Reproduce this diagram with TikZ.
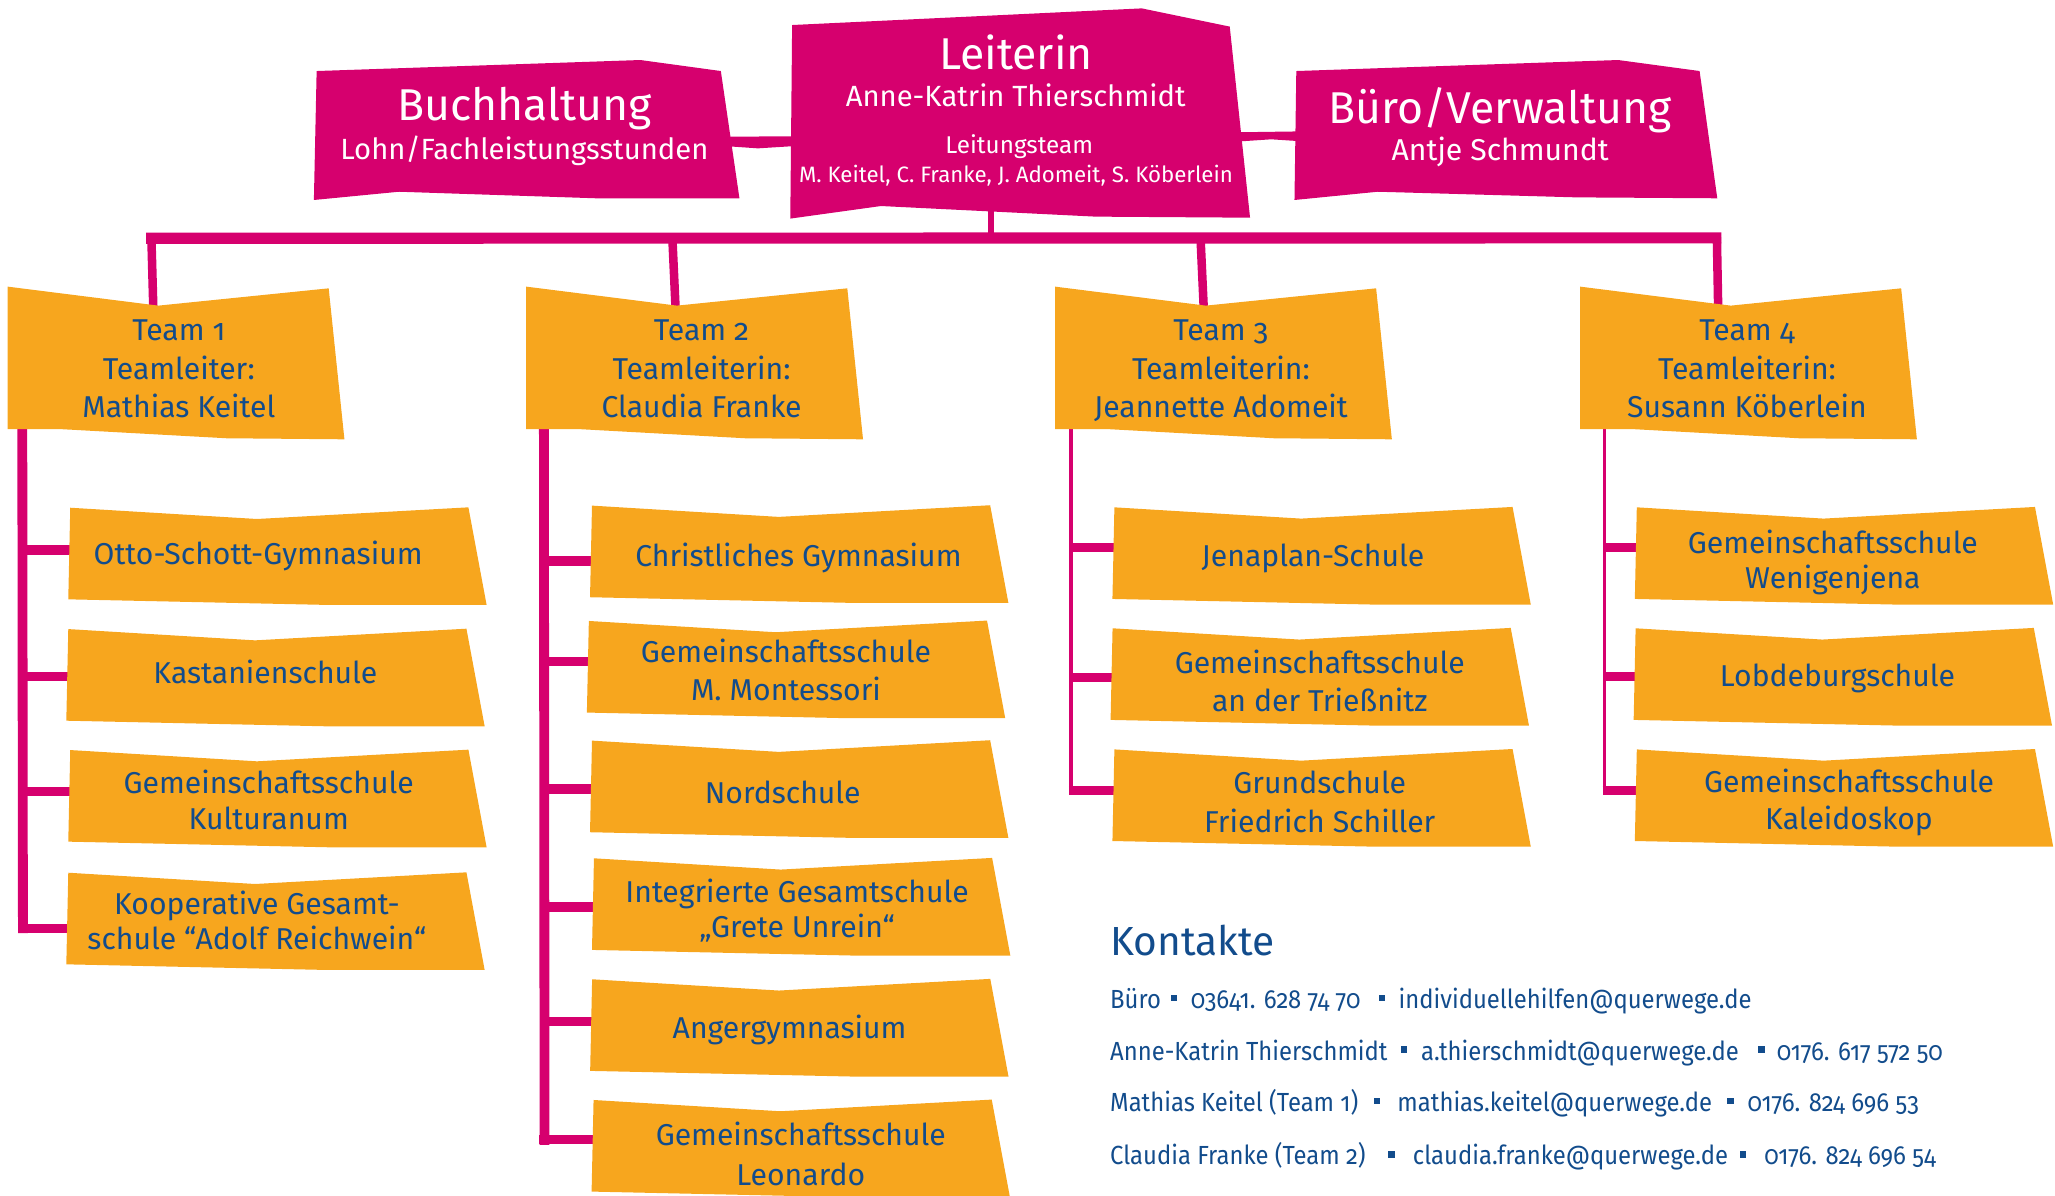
\documentclass[tikz,border=0pt]{standalone}
\usepackage{fontspec}
\setmainfont{Fira Sans}[Numbers=OldStyle]
\newfontfamily\kfont{Fira Sans}[Numbers=OldStyle,FakeStretch=0.91]
\definecolor{mag}{RGB}{214,0,110}
\definecolor{org}{RGB}{247,166,30}
\definecolor{blu}{RGB}{18,76,140}
\tikzset{
  txt/.style={inner sep=0pt, anchor=base, text=blu, font=\fontsize{23}{27}\selectfont},
  wtitle/.style={inner sep=0pt, anchor=base, text=white, font=\fontsize{34}{40}\selectfont},
  wsub/.style={inner sep=0pt, anchor=base, text=white, font=\fontsize{23}{27}\selectfont},
  wsmall/.style={inner sep=0pt, anchor=base, text=white, font=\fontsize{18.5}{22}\selectfont},
  ktxt/.style={inner sep=0pt, anchor=base west, text=blu, font=\kfont\fontsize{20}{24}\selectfont},
  khead/.style={inner sep=0pt, anchor=base west, text=blu, font=\fontsize{31}{36}\selectfont},
  barline/.style={draw=mag, line width=8.5pt},
  stemline/.style={draw=mag, line width=6.5pt},
  thickv/.style={draw=mag, line width=7.5pt},
  thinv/.style={draw=mag, line width=2.8pt},
  tickline/.style={draw=mag, line width=7pt},
  bullet/.style={fill=blu},
}
\newcommand\teamshape[2]{%
  \fill[org] (#1,#2) -- ++(115,14.5) -- ++(130,-13.2) -- ++(12,115.2) -- ++(-90,-0.8) -- ++(-127,-7) -- ++(-40,0) -- cycle;}
\newcommand\schoolshape[2]{%
  \fill[org] (#1,#2) -- ++(142.5,8.6) -- ++(161.3,-8.9) -- ++(13.9,74.5) -- ++(-120,0) -- ++(-199.2,-4.3) -- cycle;}
\newcommand\tk[4]{%
  \coordinate (#1a) at (#2,#4); \coordinate (#1b) at (#3,#4);
  \draw[tickline] (#1a) -- (#1b);}
\newcommand\kbul[3]{\fill[bullet] (#2-2.4,#3-10.4) rectangle (#2+2.4,#3-5.6); \coordinate (#1) at (#2,#3);}
\begin{document}
\begin{tikzpicture}[x=1pt,y=-1pt]
\useasboundingbox (0,0) rectangle (1568,912);
\clip (0,0) rectangle (1568,912);

% ---------- connectors (drawn first) ----------
\coordinate (barL) at (111.5,181.8);
\coordinate (barR) at (1313.5,181.5);
\draw[barline] (barL) -- (barR);
\coordinate (lstemA) at (755.8,156);
\coordinate (lstemB) at (755.8,179);
\draw[draw=mag, line width=4.5pt] (lstemA) -- (lstemB);
\foreach \n/\xa/\xb in {1/115.5/117,2/513/515.5,3/916/918.5,4/1310/1311}{
  \coordinate (stem\n a) at (\xa,181);
  \coordinate (stem\n b) at (\xb,236);
  \draw[stemline] (stem\n a) -- (stem\n b);
}
% top links
\fill[mag] (548,104.3) -- (612,104) -- (612,111.1) -- (578.3,113.2) -- (548,111.1) -- cycle;
\fill[mag] (940,101) -- (996,100.2) -- (996,108) -- (970,106.3) -- (940,108.3) -- cycle;

% team verticals
\coordinate (v1a) at (17,320); \coordinate (v1b) at (17.5,712);
\draw[thickv] (v1a) -- (v1b);
\coordinate (v2a) at (415,320); \coordinate (v2b) at (415.5,873.6);
\draw[thickv] (v2a) -- (v2b);
\coordinate (v3a) at (817,320); \coordinate (v3b) at (817,606.6);
\draw[thinv] (v3a) -- (v3b);
\coordinate (v4a) at (1224.2,320); \coordinate (v4b) at (1224.2,606.6);
\draw[thinv] (v4a) -- (v4b);

% ticks
\tk{t11}{17}{56}{419.6}
\tk{t12}{17}{56}{516}
\tk{t13}{17}{56}{604}
\tk{t14}{13.7}{56}{708.3}
\tk{t21}{415}{455}{428}
\tk{t22}{415}{455}{505}
\tk{t23}{415}{455}{602}
\tk{t24}{415}{455}{692}
\tk{t25}{415}{455}{779.5}
\tk{t26}{411.5}{455}{869.6}
\tk{t31}{817}{852}{418}
\tk{t32}{817}{852}{517}
\tk{t33}{815.6}{852}{603.2}
\tk{t41}{1224}{1251}{418}
\tk{t42}{1224}{1251}{516}
\tk{t43}{1222.8}{1251}{603.2}

% ---------- top boxes ----------
\fill[mag] (241.6,54.2) -- (488.6,45.8) -- (550,54.2) -- (564.2,151.3) -- (454.8,151.3) -- (304.4,146.3) -- (239.5,152.6) -- cycle;
\fill[mag] (604.4,19.1) -- (871.2,6.4) -- (938.3,20.3) -- (953.8,166.1) -- (836,165.3) -- (672.2,157.2) -- (603,166.8) -- cycle;
\fill[mag] (989.1,54.2) -- (1234.7,45.8) -- (1296.8,54.2) -- (1310.3,151.3) -- (1203,150.6) -- (1051.2,146.3) -- (987.7,152.6) -- cycle;

\node[wtitle] (buch) at (400.4,92.1) {Buchhaltung};
\node[wsub, font=\fontsize{22.3}{27}\selectfont] (lohn) at (400.1,121.6) {Lohn/Fachleistungsstunden};
\node[wtitle] (leit) at (775.2,53) {Leiterin};
\node[wsub, font=\fontsize{22.3}{27}\selectfont] (akt) at (775,81.2) {Anne-Katrin Thierschmidt};
\node[wsmall] (lteam) at (777.7,117) {Leitungsteam};
\node[wsmall, font=\fontsize{17}{20}\selectfont] (lnames) at (775.2,139.4) {M. Keitel, C. Franke, J. Adomeit, S. Köberlein};
\node[wtitle] (buero) at (1144.7,94.1) {Büro/Verwaltung};
\node[wsub] (antje) at (1144.7,122.6) {Antje Schmundt};

% ---------- team boxes ----------
\teamshape{5.8}{218.7}
\teamshape{401.5}{218.7}
\teamshape{805}{218.7}
\teamshape{1205.6}{218.7}
\node[txt] (t1a) at (136.5,260) {Team 1};
\node[txt] (t1b) at (136.5,289.3) {Teamleiter:};
\node[txt] (t1c) at (136.5,318.6) {Mathias Keitel};
\node[txt] (t2a) at (535.3,260) {Team 2};
\node[txt] (t2b) at (535.3,289.3) {Teamleiterin:};
\node[txt] (t2c) at (535.3,318.6) {Claudia Franke};
\node[txt] (t3a) at (931.6,260) {Team 3};
\node[txt] (t3b) at (931.6,289.3) {Teamleiterin:};
\node[txt] (t3c) at (931.6,318.6) {Jeannette Adomeit};
\node[txt] (t4a) at (1333,260) {Team 4};
\node[txt] (t4b) at (1333,289.3) {Teamleiterin:};
\node[txt] (t4c) at (1333,318.6) {Susann Köberlein};

% ---------- school boxes ----------
\schoolshape{53.6}{387.4}
\schoolshape{52.1}{480}
\schoolshape{53.6}{572.3}
\schoolshape{52.1}{665.9}
\schoolshape{451.7}{385.8}
\schoolshape{449.3}{473.8}
\schoolshape{451.7}{565.1}
\schoolshape{453.2}{654.9}
\schoolshape{451.8}{747.2}
\schoolshape{452.9}{839.3}
\schoolshape{850.3}{387.1}
\schoolshape{848.9}{479.4}
\schoolshape{850.3}{571.8}
\schoolshape{1248.9}{387.1}
\schoolshape{1248}{479.4}
\schoolshape{1248.9}{571.8}

\node[txt] (s11) at (197,431) {Otto-Schott-Gymnasium};
\node[txt] (s12) at (202.5,521.4) {Kastanienschule};
\node[txt] (s13a) at (205,605.3) {Gemeinschaftsschule};
\node[txt] (s13b) at (205,632.8) {Kulturanum};
\node[txt] (s14a) at (196,698) {Kooperative Gesamt-};
\node[txt] (s14b) at (196,724.3) {schule “Adolf Reichwein“};

\node[txt] (s21) at (609.2,431.9) {Christliches Gymnasium};
\node[txt] (s22a) at (599.7,505.6) {Gemeinschaftsschule};
\node[txt] (s22b) at (599.7,534.6) {M. Montessori};
\node[txt] (s23) at (597.2,613) {Nordschule};
\node[txt] (s24a) at (608.2,688.7) {Integrierte Gesamtschule};
\node[txt] (s24b) at (608.2,715.2) {„Grete Unrein“};
\node[txt] (s25) at (602.5,792.3) {Angergymnasium};
\node[txt] (s26a) at (611,874.4) {Gemeinschaftsschule};
\node[txt] (s26b) at (611,904.2) {Leonardo};

\node[txt] (s31) at (1001.8,432.4) {Jenaplan-Schule};
\node[txt] (s32a) at (1007,513.8) {Gemeinschaftsschule};
\node[txt] (s32b) at (1007,543) {an der Trießnitz};
\node[txt] (s33a) at (1007,605.8) {Grundschule};
\node[txt] (s33b) at (1007,635.3) {Friedrich Schiller};

\node[txt] (s41a) at (1398.5,422.7) {Gemeinschaftsschule};
\node[txt] (s41b) at (1398.5,448.9) {Wenigenjena};
\node[txt] (s42) at (1402,523.9) {Lobdeburgschule};
\node[txt] (s43a) at (1410.8,605) {Gemeinschaftsschule};
\node[txt] (s43b) at (1410.8,632.8) {Kaleidoskop};

% ---------- contacts ----------
\node[khead] (kont) at (846.9,728.7) {Kontakte};

\node[ktxt] (k1a) at (846.9,769.4) {Büro};
\kbul{kb11}{895.7}{769.4}
\node[ktxt] (k1b) at (908.5,769.4) {03641. 628 74 70};
\kbul{kb12}{1054.6}{769.4}
\node[ktxt] (k1c) at (1067,769.4) {individuellehilfen@querwege.de};

\node[ktxt] (k2a) at (846.9,808.8) {Anne-Katrin Thierschmidt};
\kbul{kb21}{1071.2}{808.8}
\node[ktxt] (k2b) at (1084.1,808.8) {a.thierschmidt@querwege.de};
\kbul{kb22}{1344.1}{808.8}
\node[ktxt] (k2c) at (1355.5,808.8) {0176. 617 572 50};

\node[ktxt] (k3a) at (846.9,848.2) {Mathias Keitel (Team 1)};
\kbul{kb31}{1050.8}{848.2}
\node[ktxt] (k3b) at (1066.1,848.2) {mathias.keitel@querwege.de};
\kbul{kb32}{1320.3}{848.2}
\node[ktxt] (k3c) at (1333.2,848.2) {0176. 824 696 53};

\node[ktxt] (k4a) at (846.9,888.9) {Claudia Franke (Team 2)};
\kbul{kb41}{1061.7}{888.9}
\node[ktxt] (k4b) at (1077.9,888.9) {claudia.franke@querwege.de};
\kbul{kb42}{1329.8}{888.9}
\node[ktxt] (k4c) at (1346,888.9) {0176. 824 696 54};
\end{tikzpicture}
\end{document}
